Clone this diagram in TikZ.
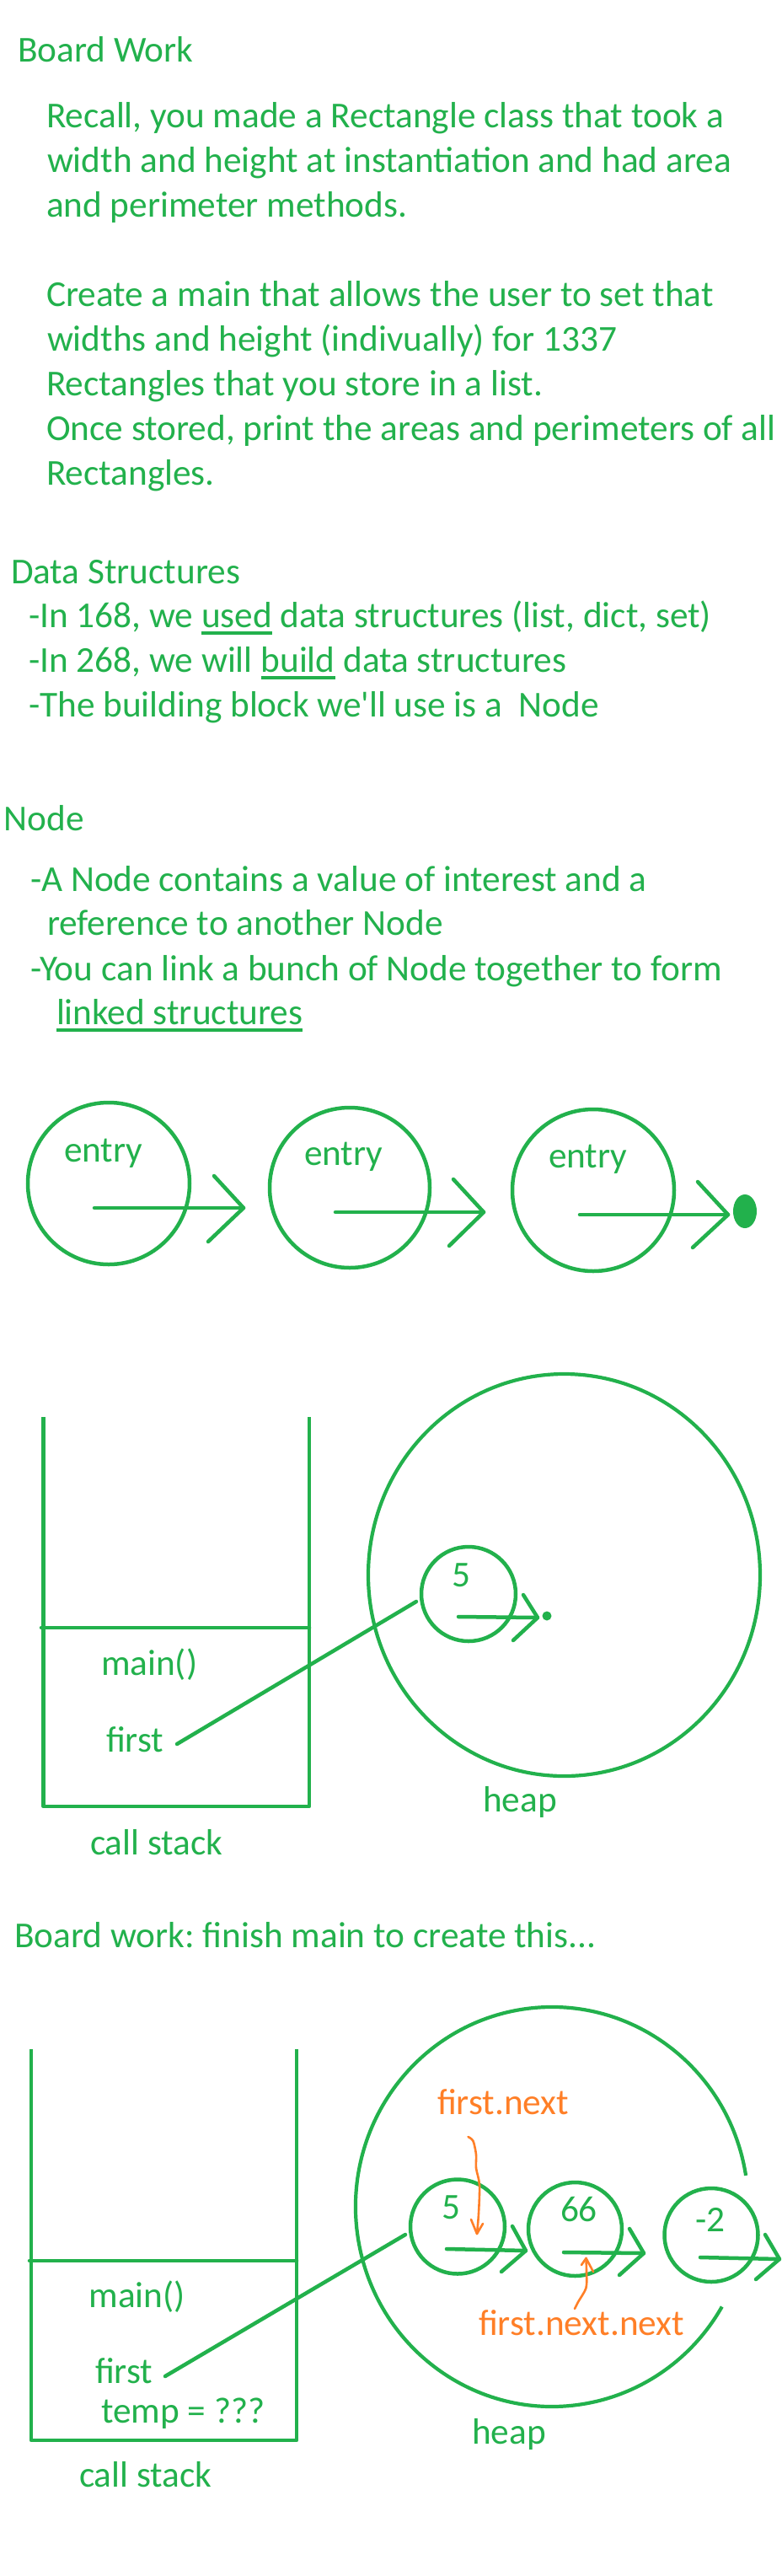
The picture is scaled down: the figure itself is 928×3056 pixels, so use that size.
\documentclass[tikz,border=0pt]{standalone}
\usepackage{fontspec}
\setmainfont{Carlito}[Ligatures=TeXOff]
\usetikzlibrary{shapes.geometric}
\definecolor{pgreen}{HTML}{22B14C}
\definecolor{porange}{HTML}{FF7F27}
\newcommand\myul[1]{\setbox0\hbox{#1}\rlap{\rule[-8.5pt]{\wd0}{3.2pt}}\box0\relax}
\begin{document}
\begin{tikzpicture}[x=1pt,y=-1pt,
  txt/.style={anchor=base west, inner sep=0pt, outer sep=0pt, text=pgreen, font=\fontsize{43.3}{50}\selectfont\frenchspacing},
  otxt/.style={txt, text=porange},
  ln/.style={draw=pgreen, line width=4.5pt, line cap=round, line join=round},
  oln/.style={draw=porange, line width=2.6pt, line cap=round, line join=round},
  ring/.style={circle, draw=pgreen, line width=4.5pt, inner sep=0pt, outer sep=0pt},
  bigring/.style={ellipse, draw=pgreen, line width=4.2pt, inner sep=0pt, outer sep=0pt}]
\useasboundingbox (0,0) rectangle (928,3056);
\fill[white] (0,0) rectangle (928,3056);

% ---------- Board work text ----------
\node[txt] (t0) at (21,74) {Board Work};
\node[txt] (t1) at (55,152) {Recall, you made a Rectangle class that took a};
\node[txt] (t2) at (56,204.5) {width and height at instantiation and had area};
\node[txt] (t3) at (55,257) {and perimeter methods.};
\node[txt] (t4) at (55,363) {Create a main that allows the user to set that};
\node[txt] (t5) at (56,416) {widths and height (indivually) for 1337};
\node[txt] (t6) at (55,469) {Rectangles that you store in a list.};
\node[txt] (t7) at (55,522) {Once stored, print the areas and perimeters of all};
\node[txt] (t8) at (55,575) {Rectangles.};

% ---------- Data structures ----------
\node[txt] (d0) at (13,692) {Data Structures};
\node[txt] (d1) at (34,744) {-In 168, we \myul{used} data structures (list, dict, set)};
\node[txt] (d2) at (34,797) {-In 268, we will \myul{build} data structures};
\node[txt] (d3) at (34,850) {-The building block we'll use is a\ \ Node};

% ---------- Node ----------
\node[txt] (n0) at (5,985) {Node};
\node[txt] (n1) at (36,1057) {-A Node contains a value of interest and a};
\node[txt] (n2) at (56,1109) {reference to another Node};
\node[txt] (n3) at (36,1163) {-You can link a bunch of Node together to form};
\node[txt] (n4) at (67,1215) {\myul{linked structures}};

% ---------- entry chain ----------
\node[ring, minimum size=192pt] (e1) at (129,1404) {};
\node[ring, minimum size=190pt] (e2) at (415,1409) {};
\node[ring, minimum size=192pt] (e3) at (704,1412) {};
\node[txt] (e1t) at (76,1378) {entry};
\node[txt] (e2t) at (361,1382) {entry};
\node[txt] (e3t) at (651,1385) {entry};
\coordinate (e1s) at (112,1433); \coordinate (e1h) at (289,1433);
\coordinate (e2s) at (398,1438); \coordinate (e2h) at (574,1438);
\coordinate (e3s) at (688,1441); \coordinate (e3h) at (864,1441);
\draw[ln] (e1s) -- (e1h);
\draw[ln] (254,1395) -- (e1h) -- (247,1473);
\draw[ln] (e2s) -- (e2h);
\draw[ln] (538,1399) -- (e2h) -- (533,1478);
\draw[ln] (e3s) -- (e3h);
\draw[ln] (828,1402) -- (e3h) -- (822,1480);
\fill[pgreen] (884,1437) ellipse[x radius=14pt, y radius=20pt];

% ---------- first stack / heap ----------
\draw[ln, line cap=butt] (51.5,1681) -- (51.5,2143) -- (367,2143) -- (367,1681);
\draw[ln] (49,1931) -- (367,1931);
\node[txt] (m1) at (120,1987) {main()};
\node[txt] (f1) at (126,2078) {first};
\node[txt] (cs1) at (107,2200) {call stack};
\node[bigring, minimum width=465pt, minimum height=477pt] (heap1) at (669.5,1868.5) {};
\node[txt] (h1) at (573,2149) {heap};
\node[ring, minimum width=110pt, minimum height=112pt] (a1) at (556,1891) {};
\node[txt] (a1t) at (536,1882) {5};
\coordinate (f1s) at (210,2069); \coordinate (a1in) at (494,1900);
\draw[ln] (f1s) -- (a1in);
\coordinate (a1s) at (544,1918); \coordinate (a1h) at (638,1919);
\draw[ln] (a1s) -- (a1h);
\draw[ln] (621,1892) -- (a1h) -- (609,1946);
\fill[pgreen] (649,1917) circle[radius=5.5pt];

% ---------- board work 2 ----------
\node[txt] (bw) at (17,2310) {Board work: finish main to create this...};
\draw[ln, line cap=butt] (37,2431) -- (37,2895) -- (352,2895) -- (352,2431);
\draw[ln] (35,2682) -- (352,2682);
\node[txt] (m2) at (105.5,2737) {main()};
\node[txt] (f2) at (113,2827) {first};
\node[txt] (tp) at (120,2874) {temp = ???};
\node[txt] (cs2) at (94,2950) {call stack};
\node[txt] (h2) at (560,2899) {heap};
\draw[draw=pgreen, line width=4.2pt] (885.1,2580.9) arc[start angle=9, end angle=330, x radius=233pt, y radius=237pt];

\node[ring, minimum size=112pt] (b1) at (543,2641.5) {};
\node[ring, minimum size=111pt] (b2) at (682.5,2644.5) {};
\node[ring, minimum size=111pt] (b3) at (844,2651.5) {};
\node[txt] (b1t) at (524,2632) {5};
\node[txt] (b2t) at (665,2635) {66};
\node[txt] (b3t) at (825,2647) {-2};
\coordinate (f2s) at (196,2819); \coordinate (b1in) at (481,2651);
\draw[ln] (f2s) -- (b1in);
\coordinate (b1s) at (530,2668); \coordinate (b1h) at (624,2670);
\coordinate (b2s) at (669,2672); \coordinate (b2h) at (764,2673);
\coordinate (b3s) at (831,2678); \coordinate (b3h) at (925,2680);
\draw[ln] (b1s) -- (b1h);
\draw[ln] (608,2641) -- (b1h) -- (595,2695);
\draw[ln] (b2s) -- (b2h);
\draw[ln] (747,2644) -- (b2h) -- (735,2699);
\draw[ln] (b3s) -- (b3h);
\draw[ln] (908,2651) -- (b3h) -- (897,2704);

% ---------- orange annotations ----------
\node[otxt] (fn) at (519,2508) {first.next};
\node[otxt] (fnn) at (568,2770) {first.next.next};
\coordinate (o1s) at (555.5,2535); \coordinate (o1e) at (566,2650);
\draw[oln] plot[smooth] coordinates {(o1s) (561.5,2540) (565,2556) (565,2572) (569,2592) (568,2626) (o1e)};
\draw[oln] (559,2633) -- (o1e) -- (573,2638);
\coordinate (o2s) at (682,2739); \coordinate (o2e) at (695.5,2679);
\draw[oln] plot[smooth] coordinates {(o2s) (686,2731) (695.5,2714) (696,2695) (o2e)};
\draw[oln] (690,2687) -- (o2e) -- (704,2695);
\end{tikzpicture}
\end{document}
